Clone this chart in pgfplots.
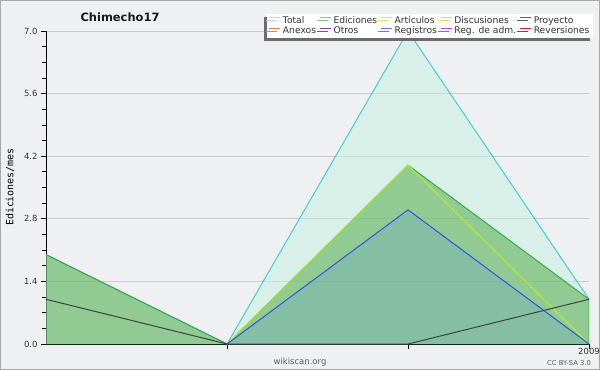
\documentclass[border=0pt]{standalone}
\usepackage{fontspec}
\setmainfont{DejaVu Sans}
\newfontfamily\monofont{DejaVu Sans Mono}
\usepackage{pgfplots}
\pgfplotsset{compat=1.18}
\usetikzlibrary{shadows}
\definecolor{bgc}{HTML}{EFF0F1}
\definecolor{bordc}{HTML}{A8A8A8}
\definecolor{gridc}{HTML}{CACACA}
\definecolor{labc}{HTML}{333333}
\definecolor{totl}{HTML}{40D0D0}
\definecolor{totf}{RGB}{196,240,226}
\definecolor{edil}{HTML}{30B040}
\definecolor{edif}{RGB}{77,166,64}
\definecolor{artl}{HTML}{B0F020}
\definecolor{regl}{HTML}{3050F0}
\definecolor{regf}{RGB}{119,181,181}
\definecolor{prol}{HTML}{404040}
\definecolor{lgTot}{HTML}{A8E8E0}
\definecolor{lgEdi}{HTML}{80C890}
\definecolor{lgArt}{HTML}{C8F060}
\definecolor{lgDis}{HTML}{F8D060}
\definecolor{lgPro}{HTML}{606060}
\definecolor{lgAne}{HTML}{F08040}
\definecolor{lgOtr}{HTML}{8040C0}
\definecolor{lgReg}{HTML}{7070F0}
\definecolor{lgAdm}{HTML}{D040E0}
\definecolor{lgRev}{HTML}{E02020}
\begin{document}
\begin{tikzpicture}[x=1bp,y=1bp]
\fill[bgc] (0,0) rectangle (600,370);
\draw[bordc, line width=1bp] (0.5,0.5) rectangle (599.5,369.5);
\useasboundingbox (0,0) rectangle (600,370);
\begin{axis}[
  at={(46bp,26bp)}, anchor=south west,
  scale only axis, width=543bp, height=313bp,
  xmin=0, xmax=3, ymin=0, ymax=7,
  axis x line*=bottom, axis y line*=left,
  axis line style={-, black, line width=1bp},
  ytick={0,1.4,2.8,4.2,5.6,7},
  minor y tick num=3,
  yticklabel style={/pgf/number format/.cd, fixed, fixed zerofill, precision=1},
  /pgf/number format/assume math mode=true,
  ymajorgrids, grid style={gridc, line width=0.8bp},
  tick align=outside, major tick length=5bp, minor tick length=4bp,
  tick style={black, line width=0.8bp},
  xtick={1,2,3}, xticklabels={,,2009},
  tick label style={font=\fontsize{8.5}{9}\selectfont, text=labc},
  xticklabel style={yshift=4bp},
  legend columns=5,
  legend cell align=left,
  legend style={at={(rel axis cs:1.0074,1.0559)}, anchor=north east,
    fill=white, draw=none,
    general shadow={shadow xshift=-3bp, shadow yshift=-3bp, fill=gray!85!black},
    font=\fontsize{9.2}{10}\selectfont, text=labc,
    inner xsep=1.5bp, inner ysep=1.5bp,
    nodes={inner ysep=0.3bp, inner xsep=2bp, text height=7.8bp, text depth=2.2bp},
    /tikz/every even column/.append style={column sep=1.5bp}},
  legend image code/.code={\draw[#1, line width=1bp] (0bp,3bp) -- (11bp,3bp);},
]
\addlegendimage{lgTot}\addlegendentry{Total}
\addlegendimage{lgEdi}\addlegendentry{Ediciones}
\addlegendimage{lgArt}\addlegendentry{Artículos}
\addlegendimage{lgDis}\addlegendentry{Discusiones}
\addlegendimage{lgPro}\addlegendentry{Proyecto}
\addlegendimage{lgAne}\addlegendentry{Anexos}
\addlegendimage{lgOtr}\addlegendentry{Otros}
\addlegendimage{lgReg}\addlegendentry{Registros}
\addlegendimage{lgAdm}\addlegendentry{Reg. de adm.}
\addlegendimage{lgRev}\addlegendentry{Reversiones}
% Total
\addplot[forget plot, draw=none, fill=totf, fill opacity=0.5] coordinates {(0,2) (1,0) (2,7) (3,1)} \closedcycle;
\addplot[forget plot, totl, line width=1bp] coordinates {(0,2) (1,0) (2,7) (3,1)};
% Ediciones
\addplot[forget plot, draw=none, fill=edif, fill opacity=0.5] coordinates {(0,2) (1,0) (2,4) (3,1)} \closedcycle;
\addplot[forget plot, edil, line width=1bp] coordinates {(0,2) (1,0) (2,4) (3,1) (3,0)};
% Registros
\addplot[forget plot, draw=none, fill=regf, fill opacity=0.5] coordinates {(0,0) (1,0) (2,3) (3,0)} \closedcycle;
% Articulos
\addplot[forget plot, artl, line width=1bp] coordinates {(1,0) (2,4) (3,0)};
\addplot[forget plot, regl, line width=1bp] coordinates {(1,0) (2,3) (3,0)};
% Proyecto
\addplot[forget plot, prol, line width=1bp] coordinates {(0,1) (1,0) (2,0) (3,1)};
\end{axis}
\node[font=\bfseries\fontsize{11.5}{12}\selectfont, text=black!90] at (120,353) {Chimecho17};
\node[font=\monofont\fontsize{10}{10}\selectfont, text=black, rotate=90] at (10,183) {Ediciones/mes};
\node[font=\fontsize{8.5}{9}\selectfont, text=labc!80] at (300,8) {wikiscan.org};
\node[font=\fontsize{6.8}{7}\selectfont, text=labc!80] at (569,7) {CC BY-SA 3.0};
\end{tikzpicture}
\end{document}
